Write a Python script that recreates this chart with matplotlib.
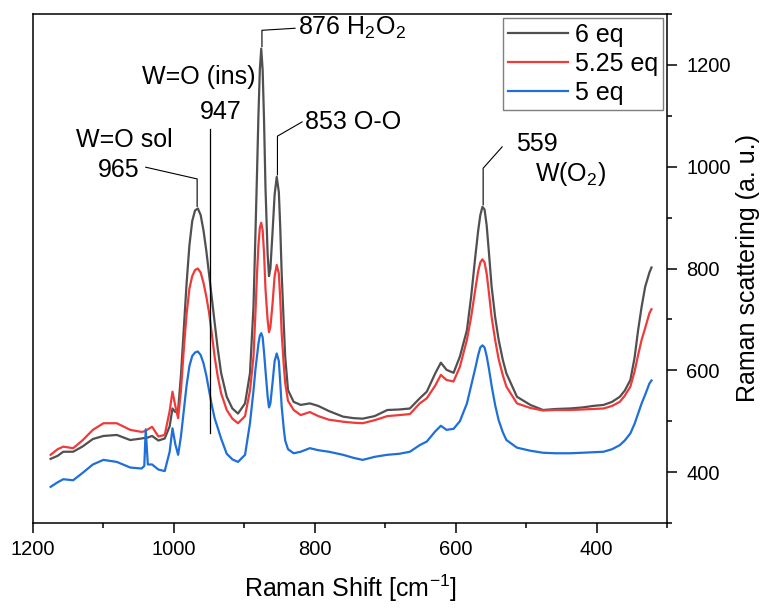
import matplotlib
matplotlib.use('Agg')
import matplotlib.pyplot as plt
from matplotlib.ticker import MultipleLocator

plt.rcParams['font.family'] = ['Liberation Sans', 'DejaVu Sans']
plt.rcParams['mathtext.default'] = 'regular'

# Raman shift grid (cm-1)
shift = [1175, 1165, 1157, 1143, 1130, 1115, 1100, 1081, 1062, 1046, 1042, 1040, 1037,
         1031, 1022, 1013, 1006, 1002, 998, 994,
         990, 986, 982, 978, 974, 970, 966, 962, 958, 954, 950, 946, 942, 938, 933, 925,
         917, 909, 899, 892,
         887, 884, 882, 880, 878, 876, 874, 872, 870, 867, 865, 863, 860, 857, 854, 851,
         849, 847, 844, 842, 838,
         830, 820, 807, 795, 780, 760, 745, 732, 715, 697, 680, 665, 651, 641, 629, 621,
         613, 603, 594,
         584, 578, 572, 568, 565, 562, 559, 556, 553, 549, 544, 539, 533, 528,
         513, 494, 476, 458, 438, 420, 405, 390, 378,
         367, 360, 352, 346, 341, 336, 331, 325, 322]

eq6 = [426, 432, 440, 440, 450, 465, 471, 473, 463, 466, 467, 467, 468,
       471, 462, 466, 490, 525, 518, 522,
       590, 680, 770, 845, 893, 914, 918, 905, 875, 835, 788, 740, 692, 645, 595, 548,
       525, 515, 535, 594,
       725, 880, 987, 1100, 1190, 1232, 1190, 1090, 960, 830, 785, 800, 870, 945, 980, 950,
       880, 791, 690, 627, 561,
       538, 532, 535, 530, 520, 509, 506, 505, 510, 522, 523, 525, 545, 558, 594, 615,
       601, 595, 627,
       679, 745, 825, 875, 905, 921, 916, 885, 835, 765, 705, 660, 620, 594,
       548, 532, 522, 524, 525, 527, 530, 532, 538,
       548, 560, 581, 625, 679, 725, 764, 792, 802]

eq525 = [434, 445, 450, 447, 462, 483, 496, 496, 483, 479, 480, 481, 484,
         489, 470, 473, 520, 558, 530, 506,
         560, 640, 710, 760, 785, 797, 800, 792, 772, 745, 713, 670, 625, 590, 555, 522,
         505, 496, 510, 560,
         627, 720, 790, 845, 880, 890, 875, 830, 760, 700, 675, 685, 730, 785, 807, 790,
         740, 673, 610, 575, 540,
         522, 512, 518, 510, 503, 499, 497, 496, 502, 510, 512, 514, 535, 545, 570, 591,
         581, 578, 607,
         660, 705, 760, 795, 812, 818, 812, 790, 755, 705, 660, 622, 590, 568,
         535, 526, 521, 522, 522, 523, 524, 525, 530,
         538, 550, 568, 598, 630, 660, 683, 712, 720]

eq5 = [371, 380, 386, 384, 398, 415, 424, 420, 409, 407, 412, 484, 415,
       415, 405, 402, 440, 486, 455, 434,
       470, 520, 570, 608, 628, 635, 637, 630, 614, 590, 560, 530, 505, 488, 466, 436,
       425, 420, 434, 496,
       560, 605, 628, 652, 668, 673, 665, 635, 600, 550, 527, 535, 575, 618, 633, 618,
       575, 529, 485, 462, 445,
       437, 440, 447, 443, 440, 434, 428, 424, 430, 434, 436, 440, 453, 460, 480, 491,
       483, 485, 500,
       535, 570, 605, 630, 645, 649, 645, 628, 605, 570, 532, 502, 478, 463,
       448, 442, 438, 437, 437, 438, 439, 440, 445,
       453, 462, 476, 495, 515, 535, 552, 574, 580]

labels = ['6 eq', '5.25 eq', '5 eq']
colors = ['#505050', '#f03a3a', '#1e6fd9']

fig = plt.figure(figsize=(7.63, 6.08), dpi=100)
ax = fig.add_axes([33 / 763, 85 / 608, 634 / 763, 509 / 608])

for ys, lab, c in zip([eq6, eq525, eq5], labels, colors):
    ax.plot(shift, ys, color=c, lw=1.6, label=lab)

ax.set_xlim(1200, 300)
ax.set_ylim(300, 1300)
ax.xaxis.set_major_locator(MultipleLocator(200))
ax.xaxis.set_minor_locator(MultipleLocator(100))
ax.yaxis.set_major_locator(MultipleLocator(200))
ax.yaxis.set_minor_locator(MultipleLocator(100))
ax.yaxis.tick_right()
ax.yaxis.set_label_position('right')
ax.tick_params(which='both', direction='out', width=1.1, top=False, left=False)
ax.tick_params(which='major', length=7, labelsize=14.5)
ax.tick_params(axis='x', which='major', pad=5)
ax.tick_params(axis='y', which='major', pad=7)
ax.tick_params(which='minor', length=3.5)
for sp in ax.spines.values():
    sp.set_linewidth(1.1)

ax.set_xlabel('Raman Shift [cm$^{-1}$]', fontsize=18, labelpad=10)
ax.set_ylabel('Raman scattering (a. u.)', fontsize=18, labelpad=4)

# peak annotations
fs = 18
ax.text(1071, 1052, 'W=O sol', fontsize=fs, ha='center', va='center')
ax.text(1079, 993, '965', fontsize=fs, ha='center', va='center')
ax.plot([1040, 967, 967], [999, 976, 922], color='black', lw=0.8)

ax.text(964, 1176, 'W=O (ins)', fontsize=fs, ha='center', va='center')
ax.text(933, 1107, '947', fontsize=fs, ha='center', va='center')
ax.plot([949, 949], [1074, 477], color='black', lw=0.9)

ax.text(824, 1272, '876 H$_2$O$_2$', fontsize=fs, ha='left', va='center')
ax.plot([875, 875, 828], [1236, 1268, 1272], color='black', lw=0.8)

ax.text(814, 1088, '853 O-O', fontsize=fs, ha='left', va='center')
ax.plot([853, 853, 818], [984, 1060, 1088], color='black', lw=0.8)

ax.text(514, 1045, '559', fontsize=fs, ha='left', va='center')
ax.text(487, 986, 'W(O$_2$)', fontsize=fs, ha='left', va='center')
ax.plot([561, 561, 534], [925, 997, 1039], color='black', lw=0.8)

leg = ax.legend(loc='upper right', bbox_to_anchor=(1, 1), fontsize=18,
                fancybox=False, edgecolor='#7f7f7f', framealpha=1,
                borderaxespad=0.15, borderpad=0.2, labelspacing=0.2,
                handlelength=2.4, handletextpad=0.3)
leg.get_frame().set_linewidth(1.0)

fig.savefig('out.png', dpi=100)
